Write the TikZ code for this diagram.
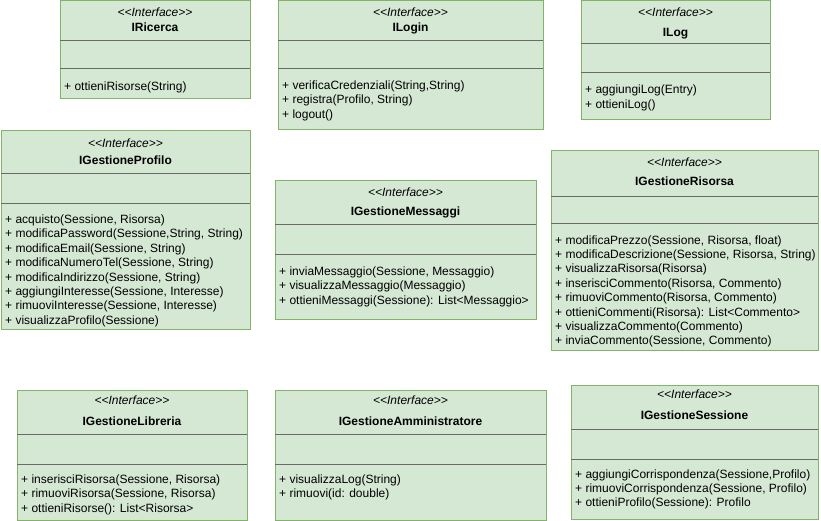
\documentclass[tikz,border=0pt]{standalone}
\usepackage{fontspec}
\setmainfont{Liberation Sans}[Ligatures=NoCommon]
\definecolor{ifill}{HTML}{D5E8D4}
\definecolor{iline}{HTML}{82B366}
\definecolor{idiv}{HTML}{6A6A6A}
\tikzset{
  ifc/.style={draw=iline, fill=ifill, line width=1pt, rectangle, inner sep=0pt, outer sep=0pt},
  divl/.style={draw=idiv, line width=1pt},
  stereo/.style={anchor=base, inner sep=0pt, font=\fontsize{12}{14}\selectfont\itshape},
  ttl/.style={anchor=base, inner sep=0pt, font=\fontsize{12}{14}\selectfont\bfseries},
  meth/.style={anchor=base west, inner sep=0pt, font=\fontsize{12}{14}\selectfont},
}
% name, x1, y1, x2, y2, divider1, divider2
\newcommand{\ifcbox}[7]{%
  \node[ifc, minimum width={(#4-#2)*1pt}, minimum height={(#5-#3)*1pt}] (#1) at ({(#2+#4)/2},{(#3+#5)/2}) {};
  \coordinate (#1-da) at (0,#6);
  \coordinate (#1-db) at (0,#7);
  \draw[divl] (#1.west |- #1-da) -- (#1.east |- #1-da);
  \draw[divl] (#1.west |- #1-db) -- (#1.east |- #1-db);
}
% name, x center, stereotype baseline, title baseline, title
\newcommand{\ifctext}[5]{%
  \node[stereo] (#1-s) at (#2,#3) {<\kern0pt<Interface>\kern0pt>};
  \node[ttl] (#1-t) at (#2,#4) {#5};
}
% name, x, first baseline, list
\newcommand{\ifcmeth}[4]{%
  \foreach \m [count=\i from 0] in {#4} {\node[meth] (#1-m\i) at ({#2+4},{#3+14.4*\i}) {\m};}
}
\begin{document}
\begin{tikzpicture}[x=1pt,y=-1pt]
\fill[white] (0,0) rectangle (821,521);
\useasboundingbox (0,0) rectangle (821,521);

% IRicerca
\ifcbox{ric}{60}{1}{250}{99}{40.7}{69}
\ifctext{ric}{155}{16.5}{31.5}{IRicerca}
\ifcmeth{ric}{60}{90.5}{{+ ottieniRisorse(String)}}

% ILogin
\ifcbox{log}{278}{1}{543}{130}{40.7}{69}
\ifctext{log}{410.5}{16.5}{31.5}{ILogin}
\ifcmeth{log}{278}{89.5}{{+ verificaCredenziali(String,String)},{+ registra(Profilo, String)},{+ logout()}}

% ILog
\ifcbox{ilog}{581}{1}{770}{120}{44}{72.7}
\ifctext{ilog}{675.5}{16.5}{36.5}{ILog}
\ifcmeth{ilog}{581}{94}{{+ aggiungiLog(Entry)},{+ ottieniLog()}}

% IGestioneProfilo
\ifcbox{prof}{1}{131}{250}{329}{174}{204}
\ifctext{prof}{125.5}{147.5}{164.5}{IGestioneProfilo}
\ifcmeth{prof}{1}{223.5}{{+ acquisto(Sessione, Risorsa)},{+ modificaPassword(Sessione,String, String)},{+ modificaEmail(Sessione, String)},{+ modificaNumeroTel(Sessione, String)},{+ modificaIndirizzo(Sessione, String)},{+ aggiungiInteresse(Sessione, Interesse)},{+ rimuoviInteresse(Sessione, Interesse)},{+ visualizzaProfilo(Sessione)}}

% IGestioneMessaggi
\ifcbox{msg}{275}{181}{536}{319}{224.7}{254.7}
\ifctext{msg}{405.5}{197}{215.5}{IGestioneMessaggi}
\ifcmeth{msg}{275}{275.5}{{+ inviaMessaggio(Sessione, Messaggio)},{+ visualizzaMessaggio(Messaggio)},{+ ottieniMessaggi(Sessione): List<Messaggio>}}

% IGestioneRisorsa
\ifcbox{ris}{551}{151}{818}{350}{196.3}{224}
\ifctext{ris}{684.5}{167}{185.5}{IGestioneRisorsa}
\ifcmeth{ris}{551}{244}{{+ modificaPrezzo(Sessione, Risorsa, float)},{+ modificaDescrizione(Sessione, Risorsa, String)},{+ visualizzaRisorsa(Risorsa)},{+ inserisciCommento(Risorsa, Commento)},{+ rimuoviCommento(Risorsa, Commento)},{+ ottieniCommenti(Risorsa): List<Commento>},{+ visualizzaCommento(Commento)},{+ inviaCommento(Sessione, Commento)}}

% IGestioneLibreria
\ifcbox{lib}{17}{390}{247}{520}{434.3}{464}
\ifctext{lib}{132}{404.5}{425.5}{IGestioneLibreria}
\ifcmeth{lib}{17}{483.5}{{+ inserisciRisorsa(Sessione, Risorsa)},{+ rimuoviRisorsa(Sessione, Risorsa)},{+ ottieniRisorse(): List<Risorsa>}}

% IGestioneAmministratore
\ifcbox{amm}{275}{390}{546}{520}{434}{464}
\ifctext{amm}{410.5}{404.5}{425.5}{IGestioneAmministratore}
\ifcmeth{amm}{275}{483.5}{{+ visualizzaLog(String)},{+ rimuovi(id: double)}}

% IGestioneSessione
\ifcbox{ses}{571}{385}{818}{519}{429.5}{459}
\ifctext{ses}{694.5}{398.5}{419.5}{IGestioneSessione}
\ifcmeth{ses}{571}{478}{{+ aggiungiCorrispondenza(Sessione,Profilo)},{+ rimuoviCorrispondenza(Sessione, Profilo)},{+ ottieniProfilo(Sessione): Profilo}}
\end{tikzpicture}
\end{document}
